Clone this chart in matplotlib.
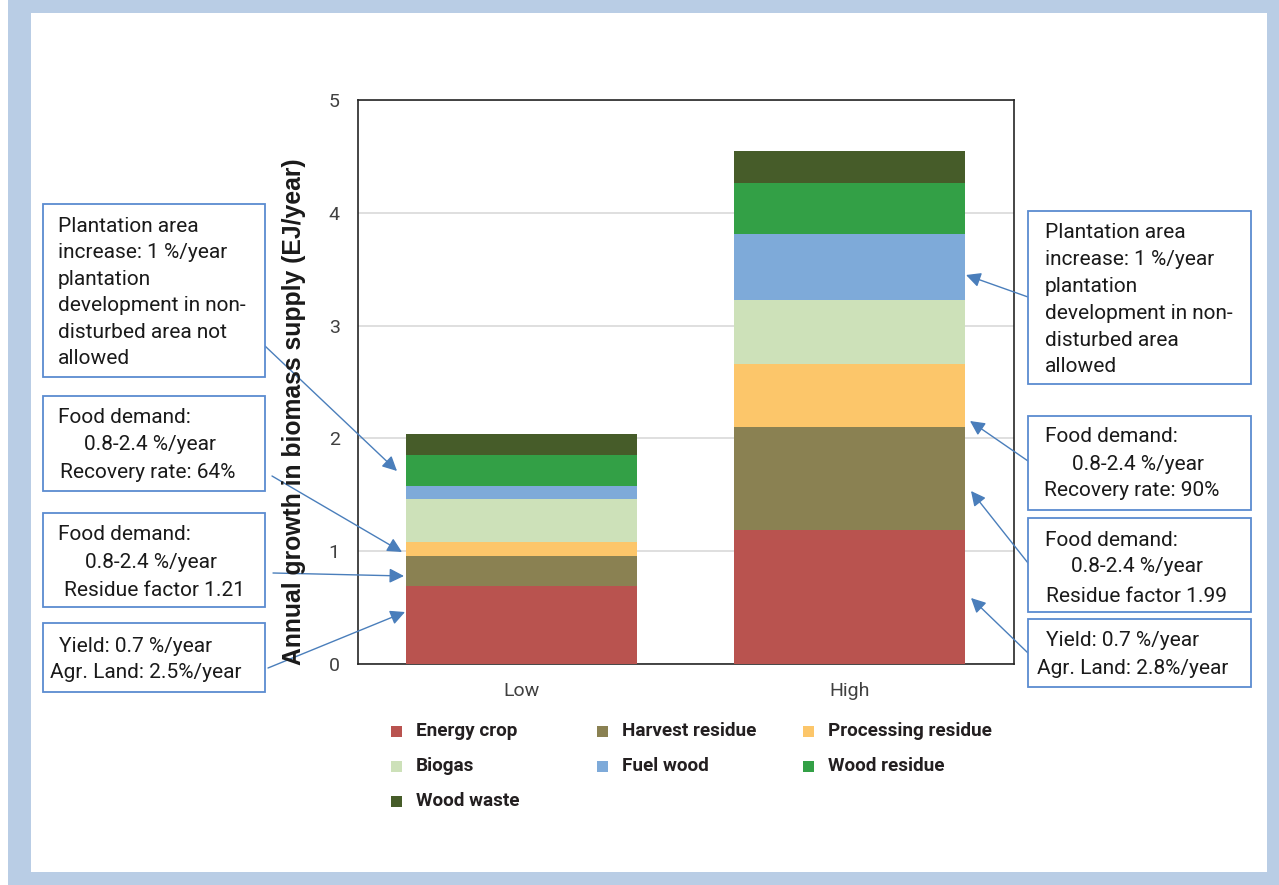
import matplotlib
matplotlib.use("Agg")
import matplotlib.pyplot as plt
from matplotlib.patches import Rectangle
import numpy as np

W, H = 1279, 885

categories = ["Low", "High"]
series = ["Energy crop", "Harvest residue", "Processing residue", "Biogas",
          "Fuel wood", "Wood residue", "Wood waste"]
energy_crop = [0.69, 1.19]
harvest_residue = [0.27, 0.91]
processing_residue = [0.12, 0.56]
biogas = [0.385, 0.565]
fuel_wood = [0.115, 0.585]
wood_residue = [0.275, 0.455]
wood_waste = [0.18, 0.28]
values = [energy_crop, harvest_residue, processing_residue, biogas,
          fuel_wood, wood_residue, wood_waste]
colors = ["#b9534f", "#8a8152", "#fcc66a", "#cde1b9", "#7eaad9", "#33a046", "#465c29"]
y_ticks = [0, 1, 2, 3, 4, 5]
y_label = "Annual growth in biomass supply (EJ/year)"

FONT = "Roboto"
BOX_EDGE = "#5b8bd0"
ARROW = "#4a7ebb"
BOX_FS = 15

fig = plt.figure(figsize=(W / 100, H / 100), dpi=100)
fig.patch.set_facecolor("#b9cde5")
fig.add_artist(Rectangle((0, 0), 8 / W, 1, transform=fig.transFigure,
                         facecolor="white", edgecolor="none", zorder=-10))
fig.add_artist(Rectangle((31 / W, 1 - 872 / H), (1267 - 31) / W, (872 - 13) / H,
                         transform=fig.transFigure, facecolor="white",
                         edgecolor="none", zorder=-10))

ax = fig.add_axes([357.7 / W, 1 - 664 / H, (1013.5 - 357.7) / W, (664 - 100) / H])
x = np.arange(len(categories))
bottom = np.zeros(len(categories))
for name, vals, col in zip(series, values, colors):
    ax.bar(x, vals, width=0.705, bottom=bottom, color=col, label=name, zorder=3)
    bottom += np.array(vals)

ax.set_xlim(-0.5, 1.5)
ax.set_ylim(0, 5)
ax.set_yticks(y_ticks)
ax.set_yticklabels([str(t) for t in y_ticks])
ax.set_xticks(x)
ax.set_xticklabels(categories)
ax.yaxis.grid(True, color="#d9d9d9", lw=1.2, zorder=0)
ax.tick_params(length=0, labelsize=14, colors="#404040")
ax.tick_params(axis="y", pad=13)
ax.tick_params(axis="x", pad=13)
for lab in ax.get_xticklabels() + ax.get_yticklabels():
    lab.set_fontfamily(FONT)
for s in ax.spines.values():
    s.set_color("#262626")
    s.set_linewidth(1.2)

fig.text(294 / W, 1 - 412 / H, y_label, rotation=90, ha="center", va="center",
         fontsize=17.8, fontweight="bold", family="Liberation Sans", color="#1a1a1a")


def P(px, py):
    return (px, H - py)


def box(x0, y0, x1, y1):
    fig.add_artist(Rectangle((x0 / W, 1 - y1 / H), (x1 - x0) / W, (y1 - y0) / H,
                             transform=fig.transFigure, facecolor="white",
                             edgecolor=BOX_EDGE, lw=1.3, zorder=5))


def line(px, py, s):
    fig.text(px / W, 1 - py / H, s, ha="left", va="center", fontsize=BOX_FS,
             family=FONT, color="#1a1a1a", zorder=6)


def arrow(x0, y0, x1, y1):
    ax.annotate("", xy=P(x1, y1), xycoords="figure pixels",
                xytext=P(x0, y0), textcoords="figure pixels",
                arrowprops=dict(arrowstyle="-|>", color=ARROW, lw=1.0,
                                mutation_scale=22, shrinkA=0, shrinkB=0),
                annotation_clip=False, zorder=7)


# Left boxes
box(43, 204, 265, 377)
for i, s in enumerate(["Plantation area", "increase: 1 %/year", "plantation",
                       "development in non-", "disturbed area not", "allowed"]):
    line(58, 226 + i * 26.6, s)
box(43, 396, 265, 491)
line(58, 418, "Food demand:")
line(84, 445, "0.8-2.4 %/year")
line(60, 472, "Recovery rate: 64%")
box(43, 513, 265, 607)
line(58, 534, "Food demand:")
line(85, 562, "0.8-2.4 %/year")
line(64, 590, "Residue factor 1.21")
box(43, 623, 265, 692)
line(59, 647, "Yield: 0.7 %/year")
line(50, 673, "Agr. Land: 2.5%/year")

# Right boxes
box(1028, 211, 1251, 384)
for i, s in enumerate(["Plantation area", "increase: 1 %/year", "plantation",
                       "development in non-", "disturbed area", "allowed"]):
    line(1045, 233 + i * 26.8, s)
box(1028, 416, 1251, 510)
line(1045, 437, "Food demand:")
line(1072, 464, "0.8-2.4 %/year")
line(1044, 491, "Recovery rate: 90%")
box(1028, 518, 1251, 612)
line(1045, 540, "Food demand:")
line(1071, 567, "0.8-2.4 %/year")
line(1046, 596, "Residue factor 1.99")
box(1028, 619, 1251, 687)
line(1046, 641, "Yield: 0.7 %/year")
line(1037, 668, "Agr. Land: 2.8%/year")

# Arrows
arrow(265, 346, 397, 471)
arrow(272, 476, 402, 552)
arrow(273, 573, 404, 576)
arrow(268, 668, 405, 612)
arrow(1028, 297, 966, 275)
arrow(1028, 461, 970, 421)
arrow(1028, 563, 971, 491)
arrow(1028, 653, 971, 598)

# Legend (row-major, 3 columns)
col_x = [391, 597, 803]
row_y = [731, 766, 801]
for i, (name, col) in enumerate(zip(series, colors)):
    r, c = divmod(i, 3)
    mx, my = col_x[c], row_y[r]
    fig.add_artist(Rectangle((mx / W, 1 - (my + 5.5) / H), 11 / W, 11 / H,
                             transform=fig.transFigure, facecolor=col,
                             edgecolor="none"))
    fig.text((mx + 25) / W, 1 - my / H, name, ha="left", va="center",
             fontsize=13.6, fontweight="bold", family=FONT, color="#231f20")

fig.savefig("out.png", dpi=100, facecolor=fig.get_facecolor())
